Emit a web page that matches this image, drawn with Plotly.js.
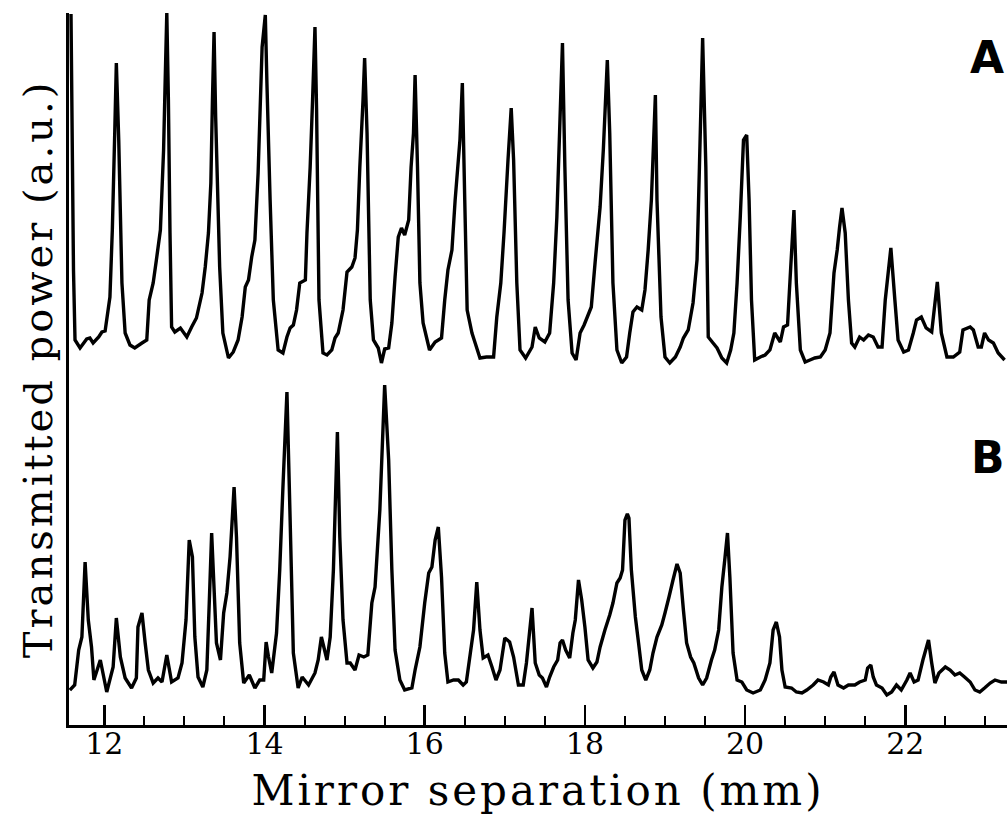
<!DOCTYPE html>
<html>
<head>
<meta charset="utf-8">
<script src="https://cdn.plot.ly/plotly-3.0.1.min.js"></script>
<style>
html, body { margin: 0; padding: 0; background: #ffffff; }
#chart { width: 1007px; height: 816px; }
#chart .xtitle, #chart .ytitle { letter-spacing: 3px; }
</style>
</head>
<body>
<div id="chart"></div>
<script>
// Trace A (upper curve): mirror separation (mm) and transmitted power (a.u.)
const xA = [11.584,11.615,11.634,11.697,11.78,11.82,11.86,11.93,11.97,12.01,
12.07,12.10,12.13,12.15,12.18,12.22,12.26,12.32,12.38,12.47,
12.53,12.56,12.61,12.65,12.70,12.74,12.76,12.78,12.80,12.82,
12.84,12.88,12.95,13.03,13.09,13.15,13.22,13.26,13.30,13.33,
13.35,13.37,13.39,13.44,13.48,13.55,13.61,13.67,13.72,13.76,
13.80,13.84,13.88,13.92,13.97,14.01,14.03,14.07,14.11,14.17,
14.23,14.28,14.32,14.36,14.40,14.44,14.51,14.53,14.57,14.60,
14.63,14.65,14.68,14.73,14.78,14.84,14.88,14.92,14.98,15.03,
15.09,15.13,15.16,15.19,15.23,15.25,15.28,15.32,15.36,15.42,
15.46,15.50,15.55,15.59,15.63,15.67,15.71,15.75,15.80,15.83,
15.86,15.88,15.91,15.94,15.98,16.06,16.13,16.21,16.25,16.29,
16.34,16.38,16.44,16.47,16.50,16.53,16.59,16.63,16.69,16.77,
16.86,16.90,16.95,16.99,17.04,17.08,17.11,17.15,17.19,17.26,
17.34,17.38,17.43,17.50,17.56,17.61,17.65,17.69,17.72,17.75,
17.79,17.84,17.89,17.94,17.99,18.04,18.08,18.13,18.19,18.23,
18.28,18.31,18.35,18.40,18.46,18.52,18.56,18.60,18.65,18.71,
18.75,18.79,18.83,18.88,18.90,18.95,19.00,19.06,19.13,19.19,
19.23,19.29,19.35,19.40,19.43,19.47,19.51,19.54,19.60,19.65,
19.71,19.77,19.82,19.86,19.90,19.94,19.98,20.02,20.05,20.08,
20.12,20.19,20.25,20.31,20.37,20.44,20.48,20.53,20.57,20.61,
20.64,20.69,20.75,20.81,20.87,20.94,21.00,21.06,21.11,21.15,
21.18,21.21,21.25,21.29,21.33,21.37,21.43,21.48,21.54,21.60,
21.66,21.71,21.75,21.82,21.87,21.91,21.98,22.04,22.10,22.14,
22.20,22.26,22.33,22.40,22.45,22.52,22.60,22.68,22.72,22.81,
22.85,22.91,22.95,22.99,23.04,23.10,23.16,23.24];
const yA = [34.6,9.0,2.0,1.2,2.1,2.2,1.7,2.3,2.8,2.9,
6.3,13.0,22.7,29.7,22.0,7.7,2.7,1.5,1.2,1.7,
2.0,6.0,7.7,10.0,13.0,21.0,28.0,34.7,26.0,12.7,
3.3,2.8,3.2,2.3,3.3,4.2,6.7,9.3,12.7,17.7,
26.0,32.8,24.3,9.3,2.7,0.2,0.8,2.0,4.3,7.3,
8.0,10.3,12.0,18.7,31.3,34.5,27.7,16.0,6.0,1.0,
0.7,2.3,3.2,3.5,5.0,7.7,8.0,12.7,19.3,26.0,
33.3,25.0,6.0,0.7,0.5,1.0,2.2,2.7,5.0,8.8,
9.3,10.2,13.0,19.3,26.0,30.2,22.7,6.0,2.0,1.2,
-0.3,1.1,1.2,3.7,8.3,12.3,13.2,12.5,14.0,19.3,
22.7,28.5,19.3,7.7,3.7,1.0,1.8,2.2,6.0,9.0,
11.0,16.0,22.0,27.7,16.0,5.0,2.7,1.7,0.2,0.3,
0.3,4.3,7.7,12.7,20.0,25.2,20.0,7.7,1.0,0.2,
1.3,3.3,2.2,1.8,2.7,7.7,14.3,24.3,31.7,19.3,
6.0,0.7,0.0,2.7,3.5,4.5,5.3,10.0,15.3,21.0,
30.0,22.7,7.7,1.0,-0.3,0.3,2.7,4.8,5.3,5.0,
7.0,11.0,16.0,26.5,16.0,4.3,0.3,-0.3,0.3,1.3,
2.2,3.0,5.7,10.0,19.3,32.2,19.3,2.3,1.7,1.2,
0.2,-0.3,1.0,2.7,7.7,14.3,22.0,22.5,16.0,6.0,
0.0,0.3,0.5,1.0,2.7,1.8,3.3,3.5,9.3,15.0,
7.7,1.0,-0.2,0.0,0.2,0.3,1.0,2.7,8.7,11.0,
13.3,15.2,12.7,6.0,1.7,1.3,2.3,2.0,2.5,2.3,
1.3,1.3,6.0,11.2,6.0,2.0,0.8,1.0,2.7,4.0,
4.3,3.2,2.8,7.8,2.7,0.3,0.3,0.8,3.0,3.3,
3.0,1.3,1.3,2.7,2.0,1.7,0.7,0.0];

// Trace B (lower curve)
const xB = [11.57,11.63,11.68,11.72,11.76,11.80,11.84,11.87,11.95,12.03,
12.11,12.15,12.20,12.26,12.34,12.40,12.42,12.47,12.51,12.55,
12.61,12.67,12.72,12.78,12.84,12.92,12.97,13.02,13.06,13.10,
13.13,13.17,13.23,13.28,13.31,13.34,13.36,13.40,13.45,13.49,
13.53,13.57,13.62,13.65,13.69,13.74,13.81,13.88,13.94,13.99,
14.02,14.05,14.09,14.15,14.19,14.23,14.28,14.32,14.36,14.42,
14.47,14.55,14.63,14.67,14.71,14.78,14.82,14.86,14.91,14.94,
14.98,15.03,15.07,15.13,15.18,15.24,15.29,15.34,15.38,15.44,
15.50,15.55,15.59,15.63,15.69,15.75,15.84,15.88,15.94,16.00,
16.05,16.09,16.13,16.17,16.21,16.25,16.29,16.36,16.42,16.48,
16.52,16.57,16.61,16.65,16.69,16.73,16.79,16.84,16.89,16.94,
17.00,17.06,17.11,17.17,17.23,17.27,17.34,17.38,17.43,17.47,
17.52,17.56,17.61,17.66,17.69,17.72,17.76,17.81,17.85,17.88,
17.92,17.96,18.00,18.04,18.10,18.15,18.19,18.25,18.31,18.35,
18.40,18.44,18.47,18.50,18.53,18.55,18.58,18.63,18.67,18.71,
18.76,18.81,18.85,18.90,18.96,19.00,19.05,19.10,19.15,19.19,
19.23,19.27,19.32,19.36,19.42,19.47,19.52,19.58,19.62,19.67,
19.71,19.75,19.78,19.81,19.85,19.90,19.96,20.02,20.10,20.19,
20.25,20.31,20.35,20.39,20.43,20.46,20.50,20.58,20.64,20.71,
20.77,20.85,20.91,20.98,21.04,21.07,21.11,21.16,21.23,21.29,
21.37,21.43,21.50,21.53,21.57,21.60,21.64,21.71,21.77,21.83,
21.89,21.95,22.02,22.06,22.11,22.16,22.22,22.29,22.33,22.37,
22.42,22.50,22.56,22.62,22.68,22.74,22.81,22.87,22.93,22.99,
23.06,23.12,23.20,23.27];
const yB = [1.0,1.5,5.0,6.3,13.8,8.0,5.3,2.0,4.0,0.8,
3.3,8.2,4.3,2.2,1.2,2.2,7.3,8.7,5.7,3.0,
1.7,2.2,1.8,4.5,1.8,2.2,3.7,8.0,16.0,14.3,
6.3,2.3,1.3,3.0,9.7,16.7,13.0,5.7,4.0,8.7,
10.7,14.3,21.3,16.3,5.7,1.7,2.5,1.2,2.0,2.0,
5.8,4.3,2.7,6.7,13.0,21.3,30.8,18.0,4.7,1.2,
2.3,1.5,2.7,4.0,6.3,4.0,6.3,13.0,26.8,16.3,
8.0,3.7,3.7,3.0,4.5,4.3,4.5,9.7,11.3,19.0,
31.5,24.0,13.0,5.0,2.0,1.0,1.2,3.0,5.3,9.7,
12.7,13.3,16.0,17.3,12.3,4.7,1.8,2.0,2.0,1.5,
1.8,4.7,7.0,11.8,7.0,4.2,4.5,3.3,2.0,3.0,
6.2,5.8,4.3,1.5,1.5,3.7,9.2,3.7,2.5,2.2,
1.3,2.3,3.3,4.0,5.7,6.0,5.0,4.2,6.7,8.0,
12.0,10.0,7.3,4.0,3.2,3.8,5.3,7.0,8.5,9.7,
11.7,12.2,13.0,18.0,18.6,18.2,13.0,8.3,5.7,3.0,
2.0,3.0,4.7,6.3,7.5,8.7,10.3,12.0,13.6,12.7,
9.0,5.7,4.3,3.7,2.2,1.5,2.2,4.0,5.0,7.0,
11.3,14.3,16.7,12.3,4.7,2.0,1.8,1.0,0.7,1.0,
2.0,3.7,7.0,7.8,6.3,3.0,1.3,1.2,0.8,0.7,
1.0,1.5,2.0,1.8,1.5,2.3,2.8,1.5,1.2,1.5,
1.5,1.8,2.0,3.2,3.5,2.3,1.5,1.2,0.5,0.8,
1.5,1.0,2.0,2.7,1.8,2.0,4.0,6.0,3.7,1.7,
2.7,3.3,3.0,2.5,2.7,2.3,1.8,1.0,0.8,1.2,
1.7,2.0,1.8,1.8];

const xTickVals = [12, 14, 16, 18, 20, 22];
const xTickText = ['12', '14', '16', '18', '20', '22'];
const traceLabels = ['A', 'B'];
const xTitle = 'Mirror separation (mm)';
const yTitle = 'Transmitted power (a.u.)';

const serif = '"DejaVu Serif", "Liberation Serif", serif';
const sansBold = '"DejaVu Sans", "Liberation Sans", sans-serif';

const data = [
  { x: xA, y: yA, type: 'scatter', mode: 'lines', name: traceLabels[0],
    xaxis: 'x', yaxis: 'y2', line: { color: '#000000', width: 3.4, simplify: false } },
  { x: xB, y: yB, type: 'scatter', mode: 'lines', name: traceLabels[1],
    xaxis: 'x', yaxis: 'y', line: { color: '#000000', width: 3.4, simplify: false } }
];

const layout = {
  width: 1007, height: 816,
  margin: { l: 69, r: 0, t: 13, b: 91, pad: 0 },
  paper_bgcolor: '#ffffff', plot_bgcolor: '#ffffff',
  showlegend: false,
  xaxis: {
    range: [11.559, 23.27],
    showgrid: false, zeroline: false,
    showline: true, linecolor: '#000000', linewidth: 3,
    ticks: 'inside', ticklen: 20, tickwidth: 2.5, tickcolor: '#000000',
    tickmode: 'array', tickvals: xTickVals, ticktext: xTickText,
    tickfont: { family: serif, size: 30, color: '#000000' },
    ticklabelstandoff: -10,
    minor: { ticks: 'inside', dtick: 0.5, tick0: 0, ticklen: 9, tickwidth: 2, tickcolor: '#000000', showgrid: false },
    title: { text: xTitle, font: { family: serif, size: 42, color: '#000000' }, standoff: 16 },
    automargin: false
  },
  yaxis: {
    range: [-2.5, 68.7],
    showgrid: false, zeroline: false,
    showline: true, linecolor: '#000000', linewidth: 3,
    ticks: '', showticklabels: false,
    title: { text: yTitle, font: { family: serif, size: 40, color: '#000000' }, standoff: 2 },
    automargin: false
  },
  yaxis2: {
    range: [-36.5, 34.7],
    overlaying: 'y',
    visible: false,
    showgrid: false, zeroline: false
  },
  annotations: [
    { text: traceLabels[0], xref: 'x', yref: 'y2', x: 23.02, y: 30.3, showarrow: false,
      xanchor: 'center', yanchor: 'middle',
      font: { family: sansBold, size: 44, color: '#000000', weight: 'bold' } },
    { text: traceLabels[1], xref: 'x', yref: 'y', x: 23.03, y: 24.3, showarrow: false,
      xanchor: 'center', yanchor: 'middle',
      font: { family: sansBold, size: 44, color: '#000000', weight: 'bold' } }
  ]
};

Plotly.newPlot('chart', data, layout, { staticPlot: true, displayModeBar: false });
</script>
</body>
</html>
